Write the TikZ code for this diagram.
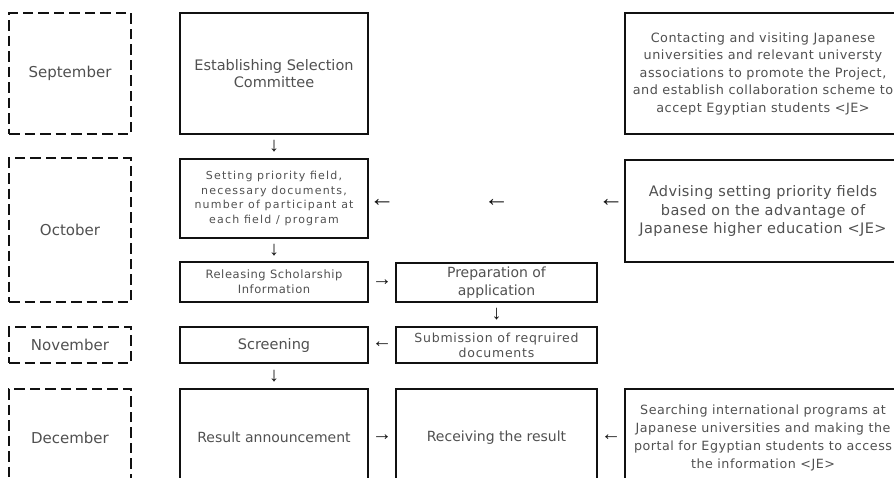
\documentclass[tikz,border=0pt]{standalone}
\usepackage{fontspec}
\setmainfont{DejaVu Sans}
\newfontfamily\arrowfont{Liberation Sans}
\usetikzlibrary{calc}
\definecolor{txt}{HTML}{505050}
\definecolor{edge}{HTML}{111111}

\tikzset{
  box/.style={draw=edge, line width=2pt, rectangle, inner sep=0pt, align=center, text=txt},
  month/.style={box, dash pattern=on 10.5pt off 5pt, line width=2.6pt,
    minimum width=122pt, font=\fontsize{15}{18}\selectfont},
  glyph/.style={inner sep=0pt, text=edge, font=\arrowfont\fontsize{20}{20}\selectfont},
  wideglyph/.style={glyph, font=\arrowfont\fontsize{25}{25}\selectfont},
  colA/.style={minimum width=188pt},
  colB/.style={minimum width=201pt},
  colC/.style={minimum width=276pt},
}

\begin{document}
\begin{tikzpicture}[x=1pt,y=-1pt]
\useasboundingbox (0,0) rectangle (894,477);
\clip (0,0) rectangle (894,477);

% month column
\node[month, minimum height=121pt] (sep) at (70,73.5) {September};
\node[month, minimum height=144pt] (oct) at (70,230) {October};
\node[month, minimum height=36pt]  (nov) at (70,345) {November};
\node[month, minimum height=97pt]  (dec) at (70,437.5) {December};

% selection committee column
\node[box, colA, minimum height=121pt, font=\fontsize{14.5}{16.7}\selectfont] (est) at (274,73.5)
  {Establishing Selection\\Committee};
\node[box, colA, minimum height=79pt, font=\fontsize{11}{14.7}\selectfont\addfontfeature{LetterSpace=11}] (set) at (274,198.5)
  {Setting priority field,\\necessary documents,\\number of participant at\\each field / program};
\node[box, colA, minimum height=40pt, font=\fontsize{11.5}{15}\selectfont\addfontfeature{LetterSpace=5}] (rel) at (274,282)
  {Releasing Scholarship\\Information};
\node[box, colA, minimum height=36pt, font=\fontsize{14.5}{17}\selectfont] (scr) at (274,345) {Screening};
\node[box, colA, minimum height=97pt, font=\fontsize{14}{17}\selectfont] (res) at (274,437.5) {Result announcement};

% applicant column
\node[box, colB, minimum height=39pt, font=\fontsize{14}{18}\selectfont] (prep) at (496.5,282.5)
  {Preparation of\\application};
\node[box, colB, minimum height=36pt, font=\fontsize{12.5}{15}\selectfont\addfontfeature{LetterSpace=6}] (sub) at (496.5,345)
  {Submission of reqruired\\documents};
\node[box, colB, minimum height=97pt, font=\fontsize{14}{17}\selectfont] (rec) at (496.5,437.5) {Receiving the result};

% JE column
\node[box, colC, minimum height=121pt, font=\fontsize{12.8}{17.5}\selectfont\addfontfeature{LetterSpace=4}] (con) at (763,73.5)
  {Contacting and visiting Japanese\\universities and relevant universty\\associations to promote the Project,\\and establish collaboration scheme to\\accept Egyptian students <JE>};
\node[box, colC, minimum height=102pt, font=\fontsize{14.5}{18.3}\selectfont\addfontfeature{LetterSpace=3}] (adv) at (763,211)
  {Advising setting priority fields\\based on the advantage of\\Japanese higher education <JE>};
\node[box, colC, minimum height=97pt, font=\fontsize{12.7}{18}\selectfont\addfontfeature{LetterSpace=4}] (sea) at (763,437.5)
  {Searching international programs at\\Japanese universities and making the\\portal for Egyptian students to access\\the information <JE>};

% flow arrows
\node[glyph] (a1) at ($(est.south)!0.5!(set.north)$) {↓};
\node[glyph] (a2) at ($(set.south)!0.5!(rel.north)$) {↓};
\node[glyph] (a3) at ($(rel.east)!0.5!(prep.west)$) {→};
\node[glyph] (a4) at ($(prep.south)!0.5!(sub.north)$) {↓};
\node[glyph] (a5) at ($(scr.east)!0.5!(sub.west)$) {←};
\node[glyph] (a6) at ($(scr.south)!0.5!(res.north)$) {↓};
\node[glyph] (a7) at ($(res.east)!0.5!(rec.west)$) {→};
\node[glyph] (a8) at ($(rec.east)!0.5!(sea.west)$) {←};
\node[wideglyph] (b1) at (382,203) {←};
\node[wideglyph] (b2) at (496.5,203) {←};
\node[wideglyph] (b3) at (611,203) {←};
\end{tikzpicture}
\end{document}
